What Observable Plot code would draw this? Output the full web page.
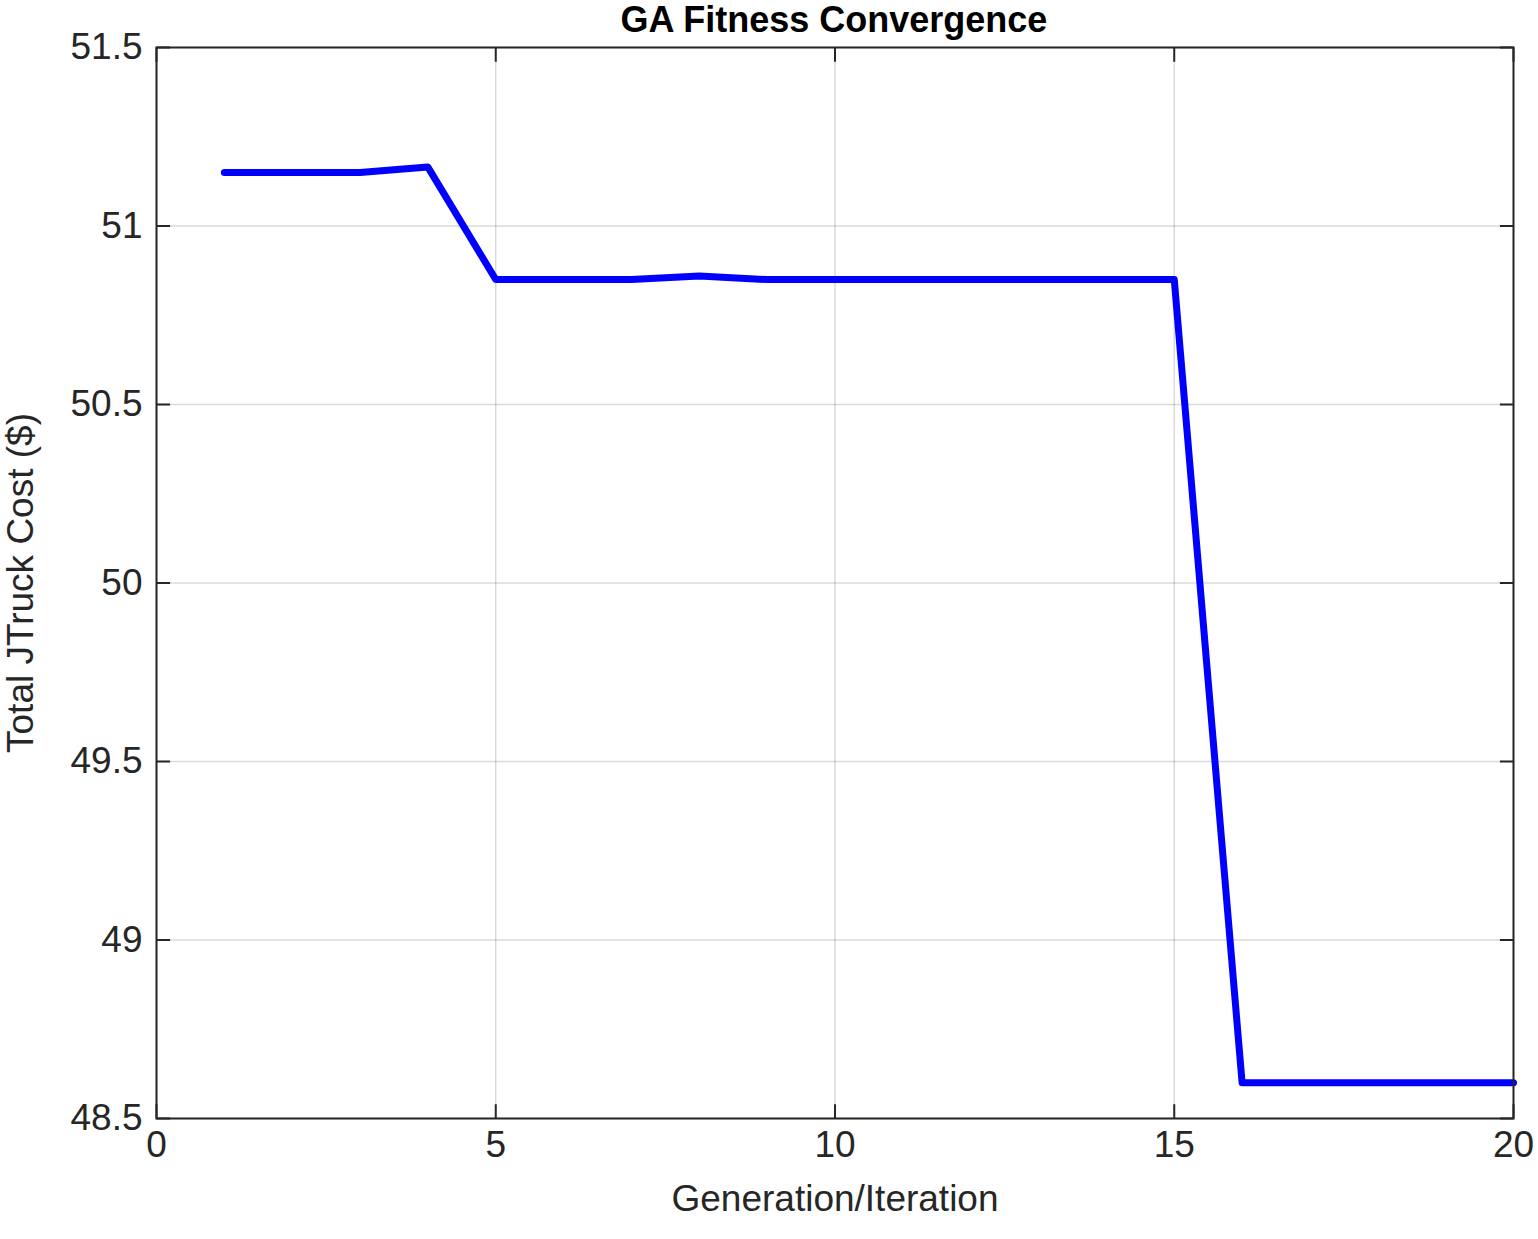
<!DOCTYPE html>
<html><head>
<script src="https://cdn.jsdelivr.net/npm/d3@7"></script>
<script src="https://cdn.jsdelivr.net/npm/@observablehq/plot@0.6"></script>
<style>
body{margin:0;background:#fff;font-family:"Liberation Sans",Arial,sans-serif;}
#title{height:40px;line-height:40px;text-align:center;font-weight:bold;font-size:36px;color:#000;padding-left:130px;position:relative;z-index:2;}
#chart svg{overflow:visible;}
</style>
</head><body>
<div id="title">GA Fitness Convergence</div>
<div id="chart"></div>
<script>
const generations = d3.range(1, 21);
const cost = [51.15, 51.15, 51.15, 51.165, 50.85, 50.85, 50.85, 50.86, 50.85, 50.85,
  50.85, 50.85, 50.85, 50.85, 50.85, 48.6, 48.6, 48.6, 48.6, 48.6];
const xTicks = [0, 5, 10, 15, 20];
const yTicks = [48.5, 49, 49.5, 50, 50.5, 51, 51.5];

const data = generations.map((g, i) => ({g, c: cost[i]}));
const tx = 0.2, ty = 0.04;
const tickLinks = [
  ...xTicks.map(x => ({x1: x, x2: x, y1: 48.5, y2: 48.5 + ty})),
  ...xTicks.map(x => ({x1: x, x2: x, y1: 51.5, y2: 51.5 - ty})),
  ...yTicks.map(y => ({x1: 0, x2: tx, y1: y, y2: y})),
  ...yTicks.map(y => ({x1: 20, x2: 20 - tx, y1: y, y2: y}))
];

const chart = Plot.plot({
  width: 1538, height: 1199,
  marginLeft: 156, marginRight: 25, marginTop: 7, marginBottom: 121,
  style: {fontFamily: "Liberation Sans, Arial, sans-serif", fontSize: "37px", color: "#262626", background: "#fff", overflow: "visible"},
  x: {domain: [0, 20]},
  y: {domain: [48.5, 51.5]},
  marks: [
    Plot.gridX(xTicks, {stroke: "#000", strokeOpacity: 0.15, strokeWidth: 1.5}),
    Plot.gridY(yTicks, {stroke: "#000", strokeOpacity: 0.15, strokeWidth: 1.5}),
    Plot.axisX(xTicks, {tickSize: 0, tickPadding: 12, tickFormat: d => d, label: "Generation/Iteration", labelAnchor: "center", labelArrow: "none", labelOffset: 92, fontSize: 37}),
    Plot.axisY(yTicks, {tickSize: 0, tickPadding: 14, tickFormat: d => d, label: "Total JTruck Cost ($)", labelAnchor: "center", labelArrow: "none", labelOffset: 150, fontSize: 37}),
    Plot.link(tickLinks, {x1: "x1", x2: "x2", y1: "y1", y2: "y2", stroke: "#262626", strokeWidth: 2}),
    Plot.line(data, {x: "g", y: "c", stroke: "#0000ff", strokeWidth: 7}),
    Plot.frame({stroke: "#262626", strokeWidth: 2})
  ]
});
document.getElementById("chart").append(chart);
</script>
</body></html>
